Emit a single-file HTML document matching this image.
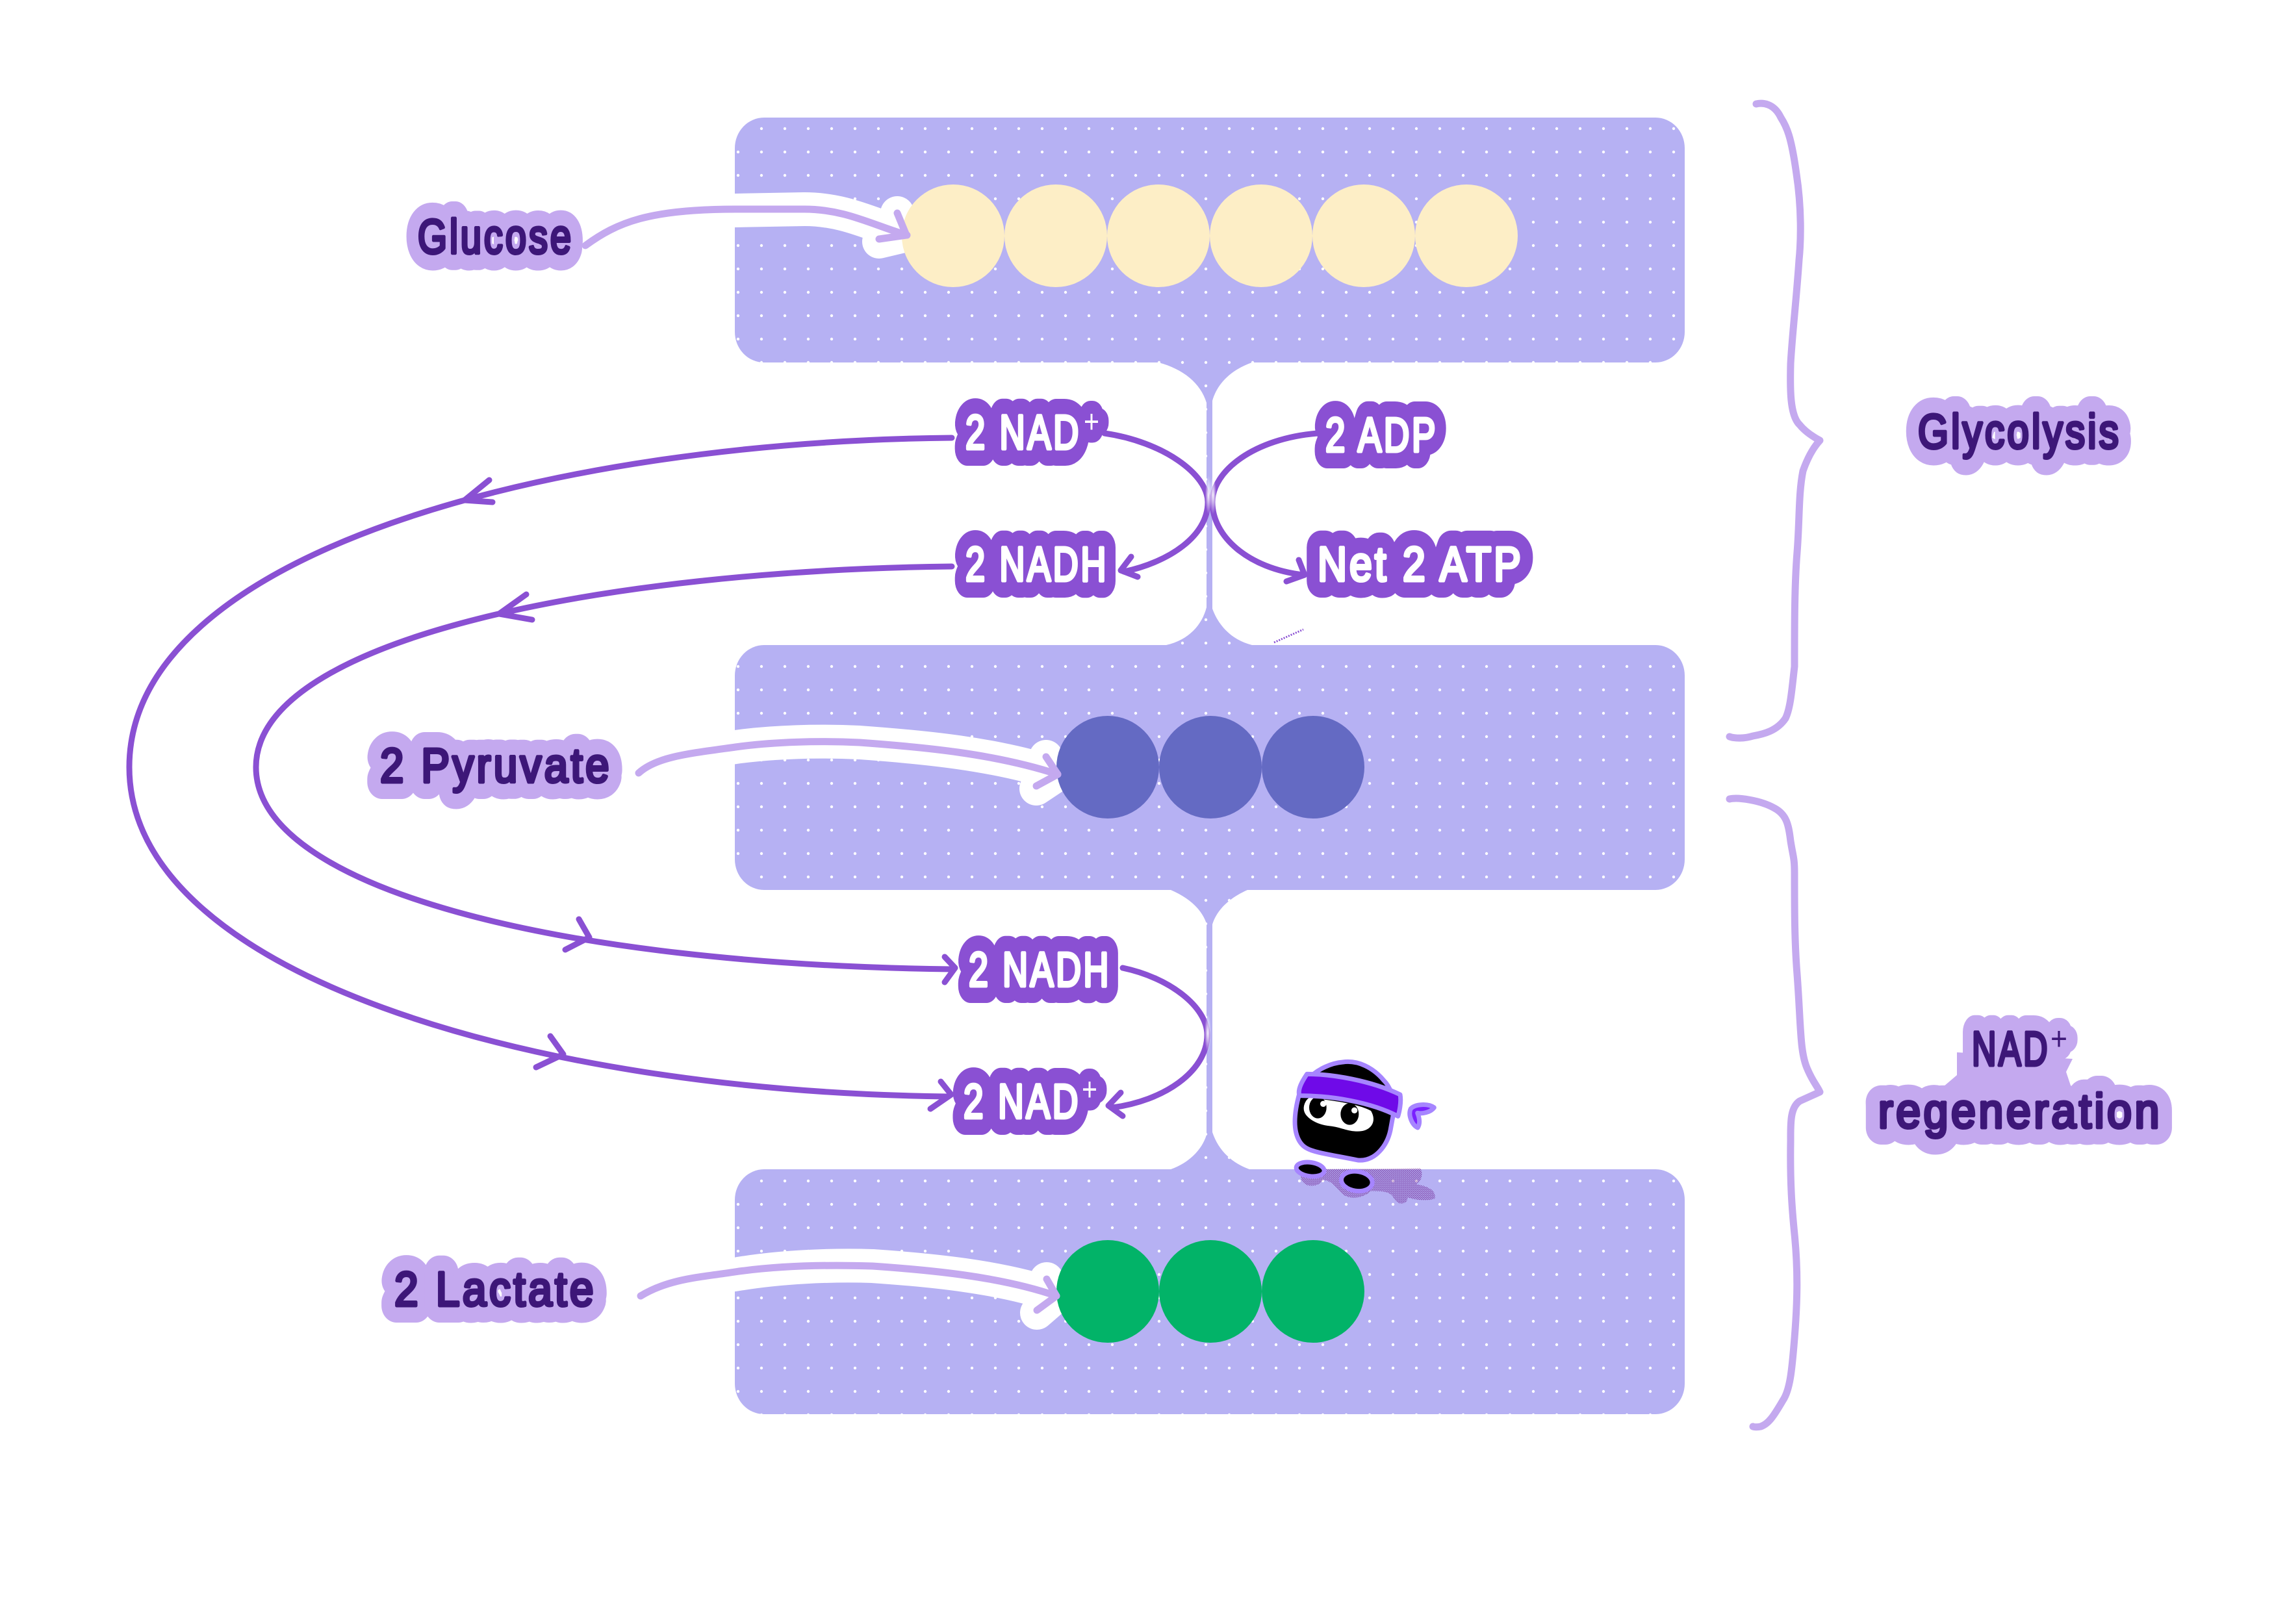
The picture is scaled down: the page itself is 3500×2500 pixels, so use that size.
<!DOCTYPE html>
<html lang="en">
<head>
<meta charset="utf-8">
<title>Glycolysis and NAD+ regeneration</title>
<style>
html,body{margin:0;padding:0;background:#fff;width:3500px;height:2500px;overflow:hidden}
svg{display:block}
text{font-family:"Liberation Sans",sans-serif;font-weight:400;font-size:74px;letter-spacing:5px}
.hl{fill:#c4a9ef;stroke:#c4a9ef;stroke-width:52;stroke-linejoin:round;stroke-linecap:round}
.hd{fill:#8a50d3;stroke:#8a50d3;stroke-width:52;stroke-linejoin:round;stroke-linecap:round}
.tl{fill:#3d1778;stroke:#3d1778;stroke-width:5;stroke-linejoin:round;stroke-linecap:round}
.td{fill:#fff;stroke:#fff;stroke-width:5;stroke-linejoin:round;stroke-linecap:round}
.pl{font-weight:400;font-size:50px;letter-spacing:0}
.dk{fill:none;stroke:#8a50d3;stroke-width:9;stroke-linecap:round;stroke-linejoin:round}
.lt{fill:none;stroke:#c4a9ef;stroke-width:11;stroke-linecap:round;stroke-linejoin:round}
.wh{fill:none;stroke:#fff;stroke-width:52;stroke-linecap:round;stroke-linejoin:round}
.br{fill:none;stroke:#c4a9ef;stroke-width:11;stroke-linecap:round;stroke-linejoin:round}
.ns{stroke:#a685ff;stroke-width:21;stroke-linejoin:round}
</style>
</head>
<body>
<svg xmlns="http://www.w3.org/2000/svg" width="3500" height="2500" viewBox="0 0 3500 2500">
<defs>
<pattern id="dots" patternUnits="userSpaceOnUse" x="2" y="0" width="36" height="36">
<circle cx="18" cy="18" r="2.2" fill="#fff"/>
</pattern>
<pattern id="half" patternUnits="userSpaceOnUse" width="9" height="9">
<circle cx="2.2" cy="2.2" r="2.1" fill="#6d1f8f"/>
<circle cx="6.7" cy="6.7" r="2.1" fill="#6d1f8f"/>
</pattern>
<radialGradient id="glow"><stop offset="0" stop-color="#fff" stop-opacity=".95"/><stop offset="1" stop-color="#fff" stop-opacity="0"/></radialGradient>
</defs>

<!-- panels -->
<g fill="#b6b1f3">
<rect x="1131" y="181" width="1462" height="377" rx="45" ry="47"/>
<rect x="1131" y="993" width="1462" height="377" rx="45" ry="47"/>
<rect x="1131" y="1800" width="1462" height="377" rx="45" ry="47"/>
<path d="M1783 558C1821 568 1848 590 1857 620L1857 935C1850 962 1830 985 1795 993L1927 993C1895 985 1875 962 1866 937L1866 617C1873 592 1893 570 1927 558Z"/>
<path d="M1802 1370C1830 1382 1850 1400 1857 1422L1857 1747C1850 1770 1830 1790 1802 1800L1923 1800C1895 1790 1875 1770 1866 1743L1866 1423C1873 1400 1893 1382 1920 1370Z"/>
</g>
<g fill="url(#dots)">
<rect x="1131" y="181" width="1462" height="377" rx="45" ry="47"/>
<rect x="1131" y="993" width="1462" height="377" rx="45" ry="47"/>
<rect x="1131" y="1800" width="1462" height="377" rx="45" ry="47"/>
<path d="M1783 558C1821 568 1848 590 1857 620L1857 935C1850 962 1830 985 1795 993L1927 993C1895 985 1875 962 1866 937L1866 617C1873 592 1893 570 1927 558Z"/>
<path d="M1802 1370C1830 1382 1850 1400 1857 1422L1857 1747C1850 1770 1830 1790 1802 1800L1923 1800C1895 1790 1875 1770 1866 1743L1866 1423C1873 1400 1893 1382 1920 1370Z"/>
</g>
<path d="M1961 989L2006 969" stroke="#8a50d3" stroke-width="3" stroke-dasharray="2 2" fill="none"/>

<!-- white halos of the entry arrows -->
<path class="wh" d="M901 378C950 342 1000 324 1132 324L1238 322C1300 322 1340 345 1396 362"/>
<path class="wh" d="M1381 328L1395 362L1353 372"/>
<path class="wh" d="M983 1190C1010 1165 1060 1160 1132 1150C1190 1142 1260 1140 1323 1143C1420 1150 1530 1160 1628 1192"/>
<path class="wh" d="M1610 1165L1628 1192L1595 1214"/>
<path class="wh" d="M986 1995C1030 1968 1080 1970 1131 1962C1200 1950 1280 1947 1343 1949C1430 1955 1540 1965 1626 1995"/>
<path class="wh" d="M1611 1969L1626 1995L1596 2021"/>

<!-- molecules -->
<g fill="#fdeec6">
<circle cx="1467" cy="363" r="79"/><circle cx="1625" cy="363" r="79"/><circle cx="1783" cy="363" r="79"/>
<circle cx="1941" cy="363" r="79"/><circle cx="2099" cy="363" r="79"/><circle cx="2257" cy="363" r="79"/>
</g>
<g fill="#646ac3"><circle cx="1705" cy="1181" r="79"/><circle cx="1863" cy="1181" r="79"/><circle cx="2021" cy="1181" r="79"/></g>
<g fill="#02b368"><circle cx="1705" cy="1988" r="79"/><circle cx="1863" cy="1988" r="79"/><circle cx="2021" cy="1988" r="79"/></g>

<!-- entry arrows -->
<path class="lt" d="M901 378C950 342 1000 322 1132 322L1238 322C1300 322 1340 345 1396 362"/>
<path class="lt" d="M1381 328L1395 362L1353 368"/>
<path class="lt" d="M983 1190C1010 1165 1060 1160 1132 1150C1190 1142 1260 1140 1323 1143C1420 1150 1530 1160 1628 1192"/>
<path class="lt" d="M1610 1165L1628 1192L1595 1210"/>
<path class="lt" d="M986 1995C1030 1968 1080 1966 1131 1958C1200 1948 1280 1947 1343 1949C1430 1955 1540 1965 1626 1995"/>
<path class="lt" d="M1611 1969L1626 1995L1596 2017"/>

<!-- long loops -->
<path class="dk" d="M1465 674C850 680 199 850 199 1181C199 1500 820 1680 1457 1688"/>
<path class="dk" d="M1465 872C945 878 394 979 394 1181C394 1370 870 1485 1465 1492"/>
<path class="dk" d="M753 739L715 770L758 773"/>
<path class="dk" d="M810 915L768 945L819 954"/>
<path class="dk" d="M891 1415L907 1443L870 1462"/>
<path class="dk" d="M847 1595L867 1623L825 1643"/>
<path class="dk" d="M1454 1473L1470 1490L1454 1512"/>
<path class="dk" d="M1448 1665L1464 1685L1432 1707"/>

<!-- short arcs -->
<path class="dk" d="M1700 667C1790 680 1859 730 1859 773C1859 825 1800 865 1730 880"/>
<path class="dk" d="M2028 667C1930 675 1866 725 1866 773C1866 825 1920 875 2006 885"/>
<path class="dk" d="M1728 1490C1800 1505 1858 1550 1858 1593C1858 1650 1790 1695 1712 1705"/>
<path class="dk" d="M1741 857L1725 878L1751 888"/>
<path class="dk" d="M1999 862L2008 885L1980 895"/>
<path class="dk" d="M1725 1682L1706 1702L1728 1718"/>
<ellipse cx="1860" cy="762" rx="5" ry="30" fill="url(#glow)"/>
<ellipse cx="1867" cy="762" rx="5" ry="30" fill="url(#glow)"/>
<ellipse cx="1859" cy="1590" rx="5" ry="30" fill="url(#glow)"/>

<!-- braces -->
<path class="br" d="M2703 160C2712 158 2730 158 2741 181C2750 195 2757 210 2765 268C2773 320 2772 370 2769 400C2765 460 2758 520 2756 560C2755 600 2755 640 2770 654C2778 664 2790 672 2801 678C2790 690 2782 705 2775 725C2768 760 2770 800 2766 850C2762 900 2762 960 2762 1026C2758 1060 2756 1090 2748 1106C2735 1125 2715 1130 2698 1133C2685 1137 2670 1137 2662 1134"/>
<path class="br" d="M2662 1230C2675 1227 2710 1232 2731 1244C2750 1254 2753 1270 2756 1295C2760 1320 2762 1320 2762 1345C2762 1400 2762 1450 2766 1500C2772 1580 2770 1620 2782 1646C2790 1665 2797 1672 2801 1681L2770 1695C2755 1705 2756 1730 2756 1756C2755 1820 2758 1860 2762 1900C2768 1960 2766 2010 2762 2060C2758 2110 2755 2140 2744 2156C2730 2180 2722 2192 2710 2196C2706 2197 2700 2197 2698 2196"/>

<!-- label halos -->
<g class="hl" transform="translate(0 -1)">
<text x="643" y="391" textLength="240" lengthAdjust="spacingAndGlyphs">Glucose</text>
<text x="585" y="1205" textLength="357" lengthAdjust="spacingAndGlyphs">2 Pyruvate</text>
<text x="607" y="2011" textLength="311" lengthAdjust="spacingAndGlyphs">2 Lactate</text>
<text x="2952" y="691" textLength="313" lengthAdjust="spacingAndGlyphs">Glycolysis</text>
<text x="3035" y="1641" textLength="120" lengthAdjust="spacingAndGlyphs">NAD</text>
<text x="3156" y="1617" textLength="26" lengthAdjust="spacingAndGlyphs" class="pl" style="stroke-width:40">+</text>
<text x="2891" y="1737" textLength="437" lengthAdjust="spacingAndGlyphs">regeneration</text>
</g>
<path d="M3012 1620L3012 1655L2985 1678L3190 1680L3180 1650L3190 1630Z" fill="#c4a9ef"/>
<g class="hd" transform="translate(0 -1)">
<text x="1486" y="692" textLength="178" lengthAdjust="spacingAndGlyphs">2 NAD</text>
<text x="1668" y="667" textLength="24" lengthAdjust="spacingAndGlyphs" class="pl" style="stroke-width:40">+</text>
<text x="1486" y="895" textLength="220" lengthAdjust="spacingAndGlyphs">2 NADH</text>
<text x="2040" y="696" textLength="173" lengthAdjust="spacingAndGlyphs">2 ADP</text>
<text x="2028" y="895" textLength="317" lengthAdjust="spacingAndGlyphs">Net 2 ATP</text>
<text x="1491" y="1519" textLength="219" lengthAdjust="spacingAndGlyphs">2 NADH</text>
<text x="1483" y="1722" textLength="180" lengthAdjust="spacingAndGlyphs">2 NAD</text>
<text x="1665" y="1695" textLength="24" lengthAdjust="spacingAndGlyphs" class="pl" style="stroke-width:40">+</text>
</g>
<!-- labels -->
<g class="tl" transform="translate(0 -1)">
<text x="643" y="391" textLength="240" lengthAdjust="spacingAndGlyphs">Glucose</text>
<text x="585" y="1205" textLength="357" lengthAdjust="spacingAndGlyphs">2 Pyruvate</text>
<text x="607" y="2011" textLength="311" lengthAdjust="spacingAndGlyphs">2 Lactate</text>
<text x="2952" y="691" textLength="313" lengthAdjust="spacingAndGlyphs">Glycolysis</text>
<text x="3035" y="1641" textLength="120" lengthAdjust="spacingAndGlyphs">NAD</text>
<text x="3156" y="1617" textLength="26" lengthAdjust="spacingAndGlyphs" class="pl" style="stroke-width:0">+</text>
<text x="2891" y="1737" textLength="437" lengthAdjust="spacingAndGlyphs">regeneration</text>
</g>
<g class="td" transform="translate(0 -1)">
<text x="1486" y="692" textLength="178" lengthAdjust="spacingAndGlyphs">2 NAD</text>
<text x="1668" y="667" textLength="24" lengthAdjust="spacingAndGlyphs" class="pl" style="stroke-width:0">+</text>
<text x="1486" y="895" textLength="220" lengthAdjust="spacingAndGlyphs">2 NADH</text>
<text x="2040" y="696" textLength="173" lengthAdjust="spacingAndGlyphs">2 ADP</text>
<text x="2028" y="895" textLength="317" lengthAdjust="spacingAndGlyphs">Net 2 ATP</text>
<text x="1491" y="1519" textLength="219" lengthAdjust="spacingAndGlyphs">2 NADH</text>
<text x="1483" y="1722" textLength="180" lengthAdjust="spacingAndGlyphs">2 NAD</text>
<text x="1665" y="1695" textLength="24" lengthAdjust="spacingAndGlyphs" class="pl" style="stroke-width:0">+</text>
</g>

<!-- ninja mascot -->
<g transform="translate(1950 1600) scale(.33333)">
<path fill="url(#half)" d="M150 600L708 596C725 620 710 660 690 670C740 675 785 700 775 735C740 750 680 740 650 730C650 760 610 770 590 740C575 710 560 700 480 700C450 730 390 745 350 715C320 690 300 650 260 650C240 680 180 690 160 650Z"/>
<path class="ns" fill="#000" d="M150 250C125 340 120 420 150 470C180 520 230 520 420 558C500 565 555 490 570 420L590 310C585 270 570 220 540 190C490 130 420 95 350 105C290 110 240 140 215 160C180 170 160 200 150 250Z"/>
<path fill="#fff" d="M195 270C300 280 430 300 480 330C510 380 480 425 420 425C370 425 340 405 290 400C230 395 170 360 170 320C170 295 185 275 195 270Z"/>
<ellipse cx="235" cy="315" rx="40" ry="50" fill="#000"/>
<ellipse cx="382" cy="345" rx="42" ry="50" fill="#000"/>
<circle cx="260" cy="298" r="14" fill="#fff"/>
<circle cx="404" cy="328" r="14" fill="#fff"/>
<path class="ns" fill="#6f0ae8" d="M185 160C300 160 480 190 615 255C622 290 610 340 605 355C480 290 300 260 150 260C140 230 165 190 185 160Z"/>
<path class="ns" fill="#7a20ff" d="M664 320C685 298 745 295 772 315C755 338 715 345 695 340C705 365 708 390 696 408C670 395 650 350 664 320Z"/>
<ellipse class="ns" cx="200" cy="600" rx="65" ry="32" transform="rotate(8 200 600)" fill="#000"/>
<ellipse class="ns" cx="415" cy="655" rx="72" ry="45" transform="rotate(8 415 655)" fill="#000"/>
</g>
</svg>
</body>
</html>
